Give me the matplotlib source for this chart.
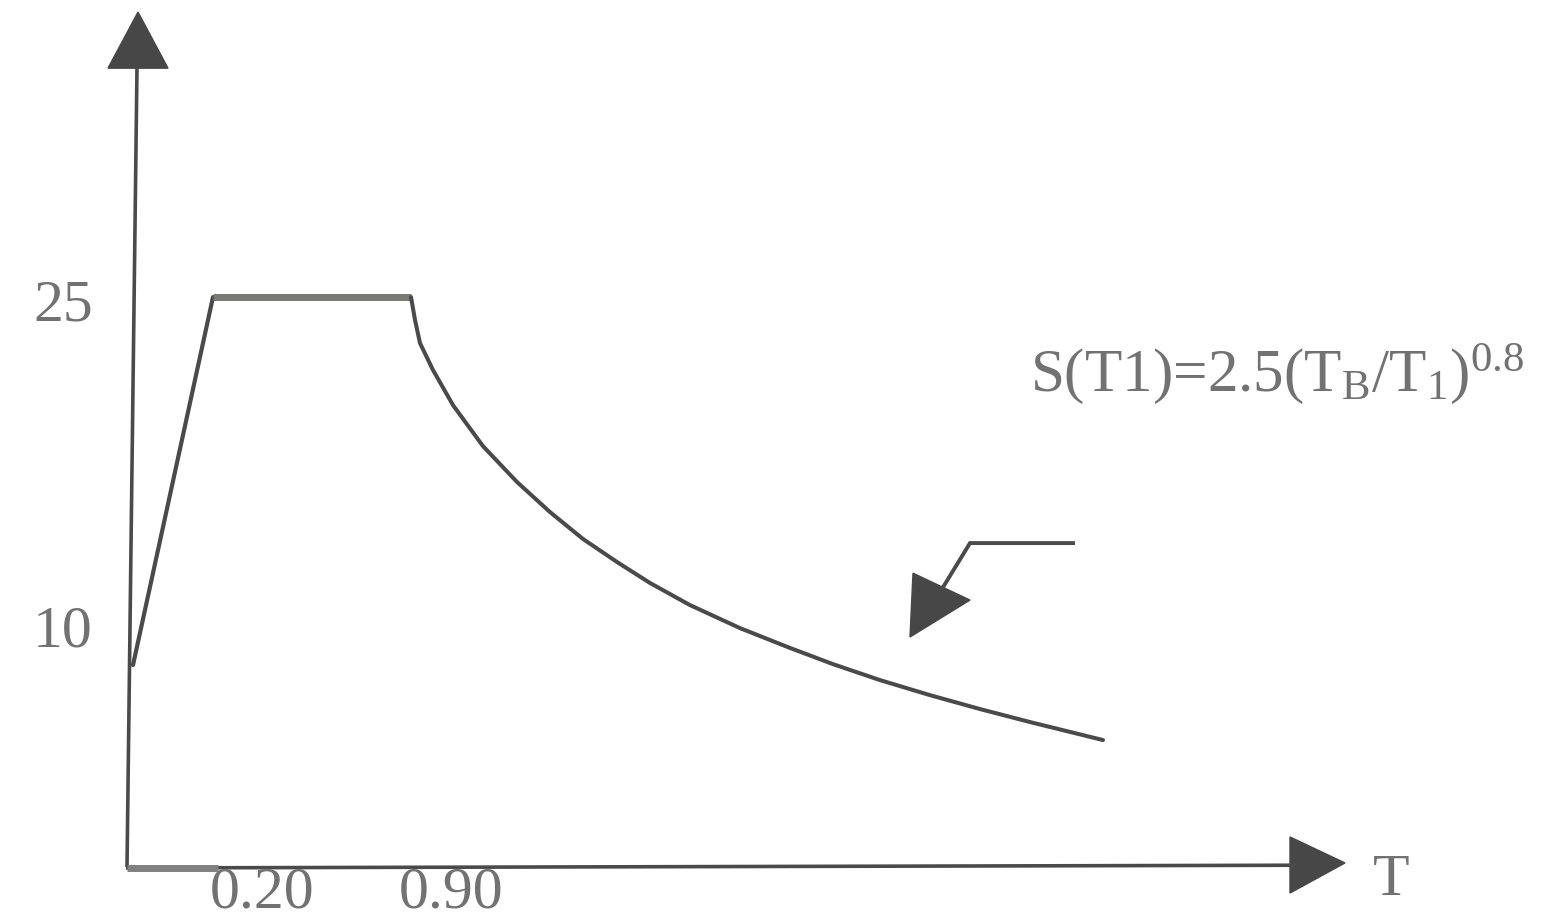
import matplotlib
matplotlib.use("Agg")
import matplotlib.pyplot as plt
from matplotlib.patches import Polygon

plt.rcParams['mathtext.fontset'] = 'custom'
plt.rcParams['mathtext.rm'] = 'Liberation Serif'
plt.rcParams['mathtext.it'] = 'Liberation Serif'

# ---- data (schematic units) ----
rise_T = [0.05, 0.85]
rise_S = [8.86, 25.0]
plateau_T = [0.85, 2.83]
plateau_S = [25.0, 25.0]
decay_T = [2.83, 2.87, 2.92, 3.05, 3.25, 3.55, 3.89, 4.22, 4.55, 4.89, 5.22,
           5.62, 6.12, 6.62, 7.05, 7.52, 8.02, 8.52, 9.02, 9.75]
decay_S = [25.0, 24.0, 22.98, 21.80, 20.26, 18.46, 16.89, 15.57, 14.39, 13.38, 12.46,
           11.49, 10.48, 9.61, 8.90, 8.20, 7.54, 6.93, 6.36, 5.57]
y_tick_values = [25.0, 10.0]
y_tick_labels = ["25", "10"]
x_tick_positions = [1.34, 3.23]
x_tick_labels = ["0.20", "0.90"]
formula = r"S(T1)=2.5(T$_{\mathrm{B}}$/T$_{\mathrm{1}}$)$^{\mathrm{0.8}}$"

fig = plt.figure(figsize=(15.59, 9.22), dpi=100)
ax = fig.add_axes([0, 0, 1, 1])
ax.set_xlim(-1.28, 14.31)
ax.set_ylim(-2.41, 38.03)
ax.axis('off')

line_c = '#4a4a4a'
text_c = '#727272'
head_c = '#474747'

# axes
ax.plot([-0.01, 0.09], [0.0, 35.1], color=line_c, lw=2.6, solid_capstyle='butt')
ax.plot([-0.02, 11.67], [-0.04, 0.08], color=line_c, lw=2.6, solid_capstyle='butt')
ax.plot([-0.01, 0.9], [-0.04, -0.04], color='#808080', lw=5, solid_capstyle='butt')
ax.add_patch(Polygon([[0.10, 37.5], [-0.20, 35.04], [0.40, 35.04]], closed=True,
                     facecolor=head_c, edgecolor=head_c, lw=1))
ax.add_patch(Polygon([[12.17, 0.18], [11.62, 1.32], [11.62, -1.14]], closed=True,
                     facecolor=head_c, edgecolor=head_c, lw=1))

# spectrum
ax.plot(rise_T, rise_S, color=line_c, lw=3.0, solid_capstyle='round')
ax.plot(plateau_T, plateau_S, color='#7a7a74', lw=5.0, solid_capstyle='butt')
ax.plot(decay_T, decay_S, color=line_c, lw=2.9, solid_capstyle='round',
        solid_joinstyle='round')

# annotation arrow
ax.plot([9.45, 8.42, 8.14], [14.21, 14.21, 12.2], color=line_c, lw=2.8,
        solid_joinstyle='miter')
ax.add_patch(Polygon([[7.85, 12.89], [8.42, 11.71], [7.82, 10.09]], closed=True,
                     facecolor=head_c, edgecolor=head_c, lw=1))

# labels
for v, lab in zip(y_tick_values, y_tick_labels):
    ax.text(-0.65, v - 0.4 if v > 20 else v + 0.3, lab, family='Liberation Serif',
            fontsize=43, color=text_c, ha='center', va='center')
for p, lab in zip(x_tick_positions, x_tick_labels):
    ax.text(p, -1.14, lab, family='Liberation Serif', fontsize=43, color=text_c,
            ha='center', va='center')
ax.text(12.63, -0.61, "T", family='Liberation Serif', fontsize=43, color=text_c,
        ha='center', va='center')
ax.text(9.02, 21.6, formula, family='Liberation Serif', fontsize=44, color=text_c,
        ha='left', va='center')

fig.savefig("out.png", dpi=100, facecolor='white')
